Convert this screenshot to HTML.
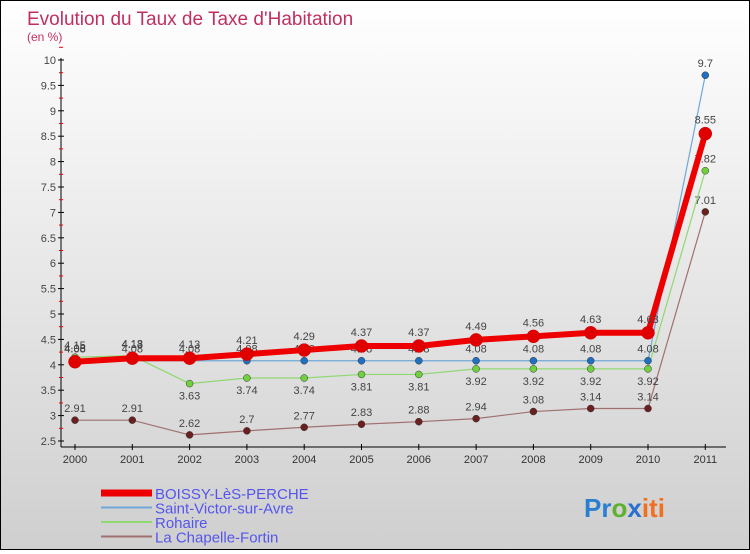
<!DOCTYPE html>
<html><head><meta charset="utf-8"><style>
body{margin:0;width:750px;height:550px;overflow:hidden;font-family:"Liberation Sans",sans-serif}
#wrap{position:relative;width:748px;height:548px;border:1px solid #000;background:linear-gradient(#fff,#cfcfcf)}
</style></head><body>
<div id="wrap">
<svg id="chart" width="748" height="548">
<text x="26" y="24" font-size="19" fill="#c0305f">Evolution du Taux de Taxe d'Habitation</text>
<text x="26" y="40" font-size="12" fill="#c0305f">(en %)</text>
<g id="axes"></g><g id="series"></g><g id="legend"></g>
<text x="583" y="516" font-size="26" font-weight="bold"><tspan fill="#2a7fd0">Pr</tspan><tspan fill="#60b030">o</tspan><tspan fill="#2a6fd0">x</tspan><tspan fill="#f07020">iti</tspan></text>
</svg></div>
<script>
const years=[2000,2001,2002,2003,2004,2005,2006,2007,2008,2009,2010,2011];
const yTicks=[2.5,3,3.5,4,4.5,5,5.5,6,6.5,7,7.5,8,8.5,9,9.5,10];
const names=["BOISSY-LèS-PERCHE","Saint-Victor-sur-Avre","Rohaire","La Chapelle-Fortin"];
const boissy=[4.06,4.13,4.13,4.21,4.29,4.37,4.37,4.49,4.56,4.63,4.63,8.55];
const stVictor=[4.08,4.08,4.08,4.08,4.08,4.08,4.08,4.08,4.08,4.08,4.08,9.7];
const rohaire=[4.15,4.18,3.63,3.74,3.74,3.81,3.81,3.92,3.92,3.92,3.92,7.82];
const chapelle=[2.91,2.91,2.62,2.7,2.77,2.83,2.88,2.94,3.08,3.14,3.14,7.01];
const NS="http://www.w3.org/2000/svg";
const xS=i=>74+i*57.3, yS=v=>440-(v-2.5)*50.8;
function mk(t,a,p){const e=document.createElementNS(NS,t);for(const k in a)e.setAttribute(k,a[k]);(p||document.getElementById('series')).appendChild(e);return e;}
const ax=document.getElementById('axes');
let e=mk('line',{x1:60,y1:yS(10)-2,x2:60,y2:yS(2.5)+6,stroke:'#000'},ax);

e=mk('line',{x1:60,y1:yS(2.5)+6,x2:725,y2:yS(2.5)+6,stroke:'#000'},ax);

yTicks.forEach(v=>{mk('line',{x1:57,x2:63,y1:yS(v),y2:yS(v),stroke:'#000'},ax);
mk('line',{x1:58,x2:62,y1:yS(v+0.25),y2:yS(v+0.25),stroke:'#e00'},ax);
const t=mk('text',{x:55,y:yS(v)+4,'font-size':11,fill:'#444','text-anchor':'end'},ax);t.textContent=v;
});
years.forEach((y,i)=>{mk('line',{x1:xS(i),x2:xS(i),y1:yS(2.5)+3,y2:yS(2.5)+9,stroke:'#000'},ax);
const t=mk('text',{x:xS(i),y:yS(2.5)+22,'font-size':11,fill:'#333','text-anchor':'middle'},ax);t.textContent=y;
});
const S=[[chapelle,'#6b2020','#a07070',1.2,3.5,'chapelle'],[rohaire,'#70d040','#90d870',1.2,3.5,'rohaire'],[stVictor,'#2070c0','#70a8d8',1.2,3.5,'saint-victor'],[boissy,'#e00000','#ee0000',6,6.5,'boissy']];
S.forEach(([d,c,lc,w,r,n])=>{
const p=mk('polyline',{points:d.map((v,i)=>xS(i)+','+yS(v)).join(' '),fill:'none',stroke:lc,'stroke-width':w});

d.forEach((v,i)=>{const c2=mk('circle',{cx:xS(i),cy:yS(v),r:r,fill:c,stroke:n=='boissy'?'#c00':'#333','stroke-width':0.5});

const t=mk('text',{x:xS(i),y:yS(v)-(n=='boissy'?10:(n=='rohaire'&&i>1&&i<11?-16:8)),'font-size':11,fill:'#444','text-anchor':'middle'});
t.textContent=v;});});
const lg=document.getElementById('legend');
const lcol=['#ee0000','#70a8d8','#90d870','#a07070'],lw=[7,2,2,2];
names.forEach((nm,i)=>{const y=492+i*14.5;
const l=mk('line',{x1:100,x2:151,y1:y,y2:y,stroke:lcol[i],'stroke-width':lw[i]},lg);

const t=mk('text',{x:154,y:y+6,'font-size':15,fill:'#5555ee'},lg);t.textContent=nm;
});
</script></body></html>
